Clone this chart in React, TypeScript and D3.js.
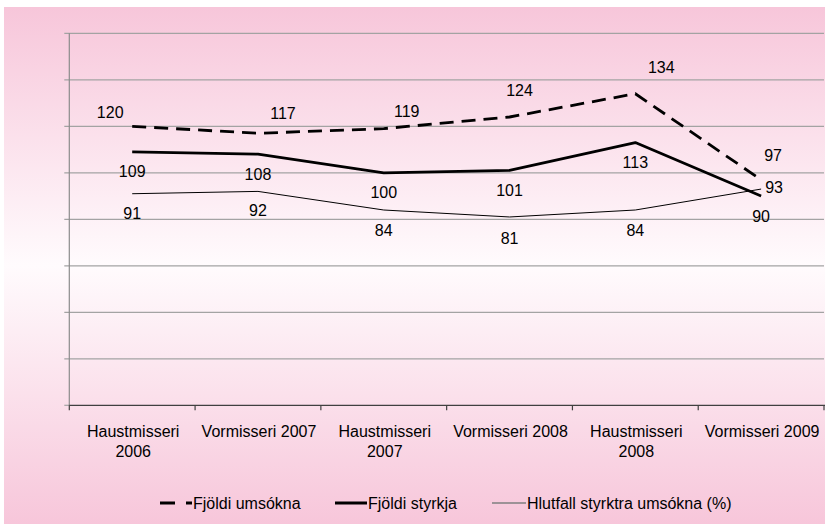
import { useMemo } from "react";
import * as d3 from "d3";

const categories = [
  "Haustmisseri 2006",
  "Vormisseri 2007",
  "Haustmisseri 2007",
  "Vormisseri 2008",
  "Haustmisseri 2008",
  "Vormisseri 2009",
];
const umsoknir = [120, 117, 119, 124, 134, 97];
const styrkir = [109, 108, 100, 101, 113, 90];
const hlutfall = [91, 92, 84, 81, 84, 93];
const yTicks = [0, 20, 40, 60, 80, 100, 120, 140, 160];

// label nudges (dx, dy) relative to the point, as placed in the original
const umsoknirNudges: [number, number][] = [
  [-22, -14], [25, -20], [23, -17], [10, -27], [26, -26], [12, -24],
];
const hlutfallNudges: [number, number][] = [
  [0, 20], [0, 19], [0, 20], [0, 21], [0, 20], [13, -2],
];

const WIDTH = 825;
const HEIGHT = 524;
const FONT = "'Liberation Sans', Arial, sans-serif";

export default function App() {
  const margin = { top: 33.3, right: 1, bottom: 118.7, left: 69.3 };

  const x = useMemo(
    () => d3.scaleBand<string>().domain(categories).range([margin.left, WIDTH - margin.right]),
    [],
  );
  const y = useMemo(
    () => d3.scaleLinear().domain([0, 160]).range([HEIGHT - margin.bottom, margin.top]),
    [],
  );
  const cx = (i: number) => (x(categories[i]) ?? 0) + x.bandwidth() / 2;
  const line = d3
    .line<number>()
    .x((_, i) => cx(i))
    .y((v) => y(v));

  const edges = [...categories.map((c) => x(c) ?? 0), WIDTH - margin.right];
  const axisY = y(0);

  const legend = [
    { label: "Fjöldi umsókna", x: 160, w: 32, dash: "15,11", sw: 3, color: "#000" },
    { label: "Fjöldi styrkja", x: 335, w: 32, dash: undefined, sw: 3, color: "#000" },
    { label: "Hlutfall styrktra umsókna (%)", x: 492, w: 34, dash: undefined, sw: 1.5, color: "#7f7f7f" },
  ];

  return (
    <>
      <style>{`body{margin:0}`}</style>
      <svg width={WIDTH} height={HEIGHT} style={{ display: "block", fontFamily: FONT }}>
        <defs>
          <linearGradient id="bg" x1="0" y1="0" x2="0" y2="1">
            <stop offset="0%" stopColor="#f7c6da" />
            <stop offset="50%" stopColor="#fffbfd" />
            <stop offset="100%" stopColor="#f7c6da" />
          </linearGradient>
        </defs>
        <rect x={0} y={0} width={WIDTH} height={HEIGHT} fill="#ffffff" />
        <rect x={4} y={7} width={WIDTH - 4} height={HEIGHT - 7} fill="url(#bg)" />

        {/* gridlines + left ticks */}
        {yTicks.slice(1).map((t) => (
          <line
            key={t}
            x1={margin.left - 5}
            x2={WIDTH - margin.right}
            y1={y(t)}
            y2={y(t)}
            stroke="#a3a3a3"
            strokeWidth={1.2}
          />
        ))}
        <line x1={margin.left - 5} x2={margin.left} y1={axisY} y2={axisY} stroke="#a3a3a3" strokeWidth={1.2} />
        <line x1={margin.left} x2={margin.left} y1={y(160)} y2={axisY} stroke="#8c8c8c" strokeWidth={1.2} />

        {/* x axis */}
        <line x1={margin.left} x2={WIDTH} y1={axisY} y2={axisY} stroke="#404040" strokeWidth={1.3} />
        {edges.map((e, i) => (
          <line key={i} x1={e} x2={e} y1={axisY} y2={axisY + 5} stroke="#404040" strokeWidth={1.2} />
        ))}
        {categories.map((c, i) => {
          const parts = c.startsWith("Haust") ? c.split(" ") : [c];
          return (
            <text key={c} x={cx(i) + 1} y={431.7} textAnchor="middle" fontSize={16} fill="#000">
              {parts.map((p, j) => (
                <tspan key={j} x={cx(i) + 1} dy={j === 0 ? "0.35em" : 19.3}>
                  {p}
                </tspan>
              ))}
            </text>
          );
        })}

        {/* series */}
        <path d={line(hlutfall) ?? ""} fill="none" stroke="#000" strokeWidth={1} />
        <path d={line(styrkir) ?? ""} fill="none" stroke="#000" strokeWidth={2.8} strokeLinejoin="round" />
        <path
          d={line(umsoknir) ?? ""}
          fill="none"
          stroke="#000"
          strokeWidth={2.8}
          strokeDasharray="14,8"
          strokeLinejoin="round"
        />

        {/* data labels */}
        {umsoknir.map((v, i) => (
          <text
            key={`u${i}`}
            x={cx(i) + umsoknirNudges[i][0]}
            y={y(v) + umsoknirNudges[i][1]}
            dy="0.35em"
            textAnchor="middle"
            fontSize={16}
            fill="#000"
          >
            {v}
          </text>
        ))}
        {styrkir.map((v, i) => (
          <text key={`s${i}`} x={cx(i)} y={y(v) + 20} dy="0.35em" textAnchor="middle" fontSize={16} fill="#000">
            {v}
          </text>
        ))}
        {hlutfall.map((v, i) => (
          <text
            key={`h${i}`}
            x={cx(i) + hlutfallNudges[i][0]}
            y={y(v) + hlutfallNudges[i][1]}
            dy="0.35em"
            textAnchor="middle"
            fontSize={16}
            fill="#000"
          >
            {v}
          </text>
        ))}

        {/* legend */}
        {legend.map((l) => (
          <g key={l.label}>
            <line
              x1={l.x}
              x2={l.x + l.w}
              y1={503}
              y2={503}
              stroke={l.color}
              strokeWidth={l.sw}
              strokeDasharray={l.dash}
            />
            <text x={l.x + l.w + 1} y={503} dy="0.35em" fontSize={16} fill="#000">
              {l.label}
            </text>
          </g>
        ))}
      </svg>
    </>
  );
}
